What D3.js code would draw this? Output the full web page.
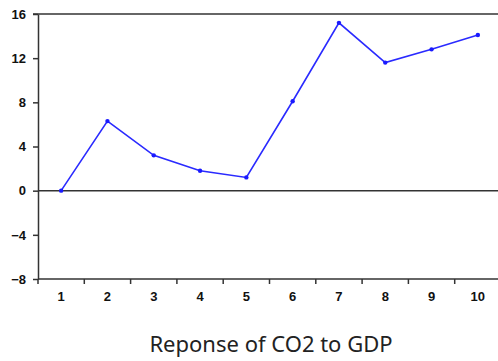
<!DOCTYPE html>
<html>
<head>
<meta charset="utf-8">
<script src="https://cdn.jsdelivr.net/npm/d3@7"></script>
<style>
  body { margin: 0; background: #fff; }
  .tick text { font-family: "Liberation Sans", Arial, sans-serif; font-weight: bold; font-size: 13px; fill: #111; }
</style>
</head>
<body>
<div id="chart"></div>
<script>
// impulse response of CO2 to GDP, periods 1..10
var periods = [1, 2, 3, 4, 5, 6, 7, 8, 9, 10];
var response = [0, 6.3, 3.2, 1.8, 1.2, 8.1, 15.2, 11.6, 12.8, 14.1];
var yTicks = [-8, -4, 0, 4, 8, 12, 16];
var title = "Reponse of CO2 to GDP";

var width = 498, height = 361;
var margin = { top: 14, right: -3, bottom: 82, left: 38 };

var svg = d3.select("#chart").append("svg")
    .attr("width", width)
    .attr("height", height);

var x = d3.scaleBand()
    .domain(periods)
    .range([margin.left, width - margin.right]);

var y = d3.scaleLinear()
    .domain([-8, 16])
    .range([height - margin.bottom, margin.top]);

var axisColor = "#333";

// top frame line
svg.append("line")
    .attr("x1", margin.left - 5).attr("x2", width)
    .attr("y1", y(16)).attr("y2", y(16))
    .attr("stroke", axisColor).attr("stroke-width", 1.5);

// zero line
svg.append("line")
    .attr("x1", margin.left).attr("x2", width)
    .attr("y1", y(0)).attr("y2", y(0))
    .attr("stroke", axisColor).attr("stroke-width", 1.5);

// y axis
var yAxis = svg.append("g")
    .attr("transform", "translate(" + margin.left + ",0)")
    .call(d3.axisLeft(y).tickValues(yTicks).tickSize(5).tickSizeOuter(0).tickPadding(7));
yAxis.select(".domain").attr("stroke", axisColor).attr("stroke-width", 1.5);
yAxis.selectAll(".tick line").attr("stroke", axisColor).attr("stroke-width", 1.5);

// x axis: labels in band centres, ticks on band edges
var xAxis = svg.append("g")
    .attr("transform", "translate(0," + y(-8) + ")")
    .call(d3.axisBottom(x).tickSize(0).tickSizeOuter(0).tickPadding(13));
xAxis.select(".domain").remove();

svg.append("line")
    .attr("x1", margin.left).attr("x2", width)
    .attr("y1", y(-8)).attr("y2", y(-8))
    .attr("stroke", axisColor).attr("stroke-width", 1.5);

svg.selectAll(".xtick")
    .data(periods)
    .enter()
    .append("line")
    .attr("class", "xtick")
    .attr("x1", function(d) { return x(d); })
    .attr("x2", function(d) { return x(d); })
    .attr("y1", y(-8))
    .attr("y2", y(-8) + 5)
    .attr("stroke", axisColor).attr("stroke-width", 1.5);

// response line
var line = d3.line()
    .x(function(d, i) { return x(periods[i]) + x.bandwidth() / 2; })
    .y(function(d) { return y(d); });

svg.append("path")
    .datum(response)
    .attr("d", line)
    .attr("fill", "none")
    .attr("stroke", "#2a2aff")
    .attr("stroke-width", 1.6);

svg.selectAll(".pt")
    .data(response)
    .enter()
    .append("circle")
    .attr("class", "pt")
    .attr("cx", function(d, i) { return x(periods[i]) + x.bandwidth() / 2; })
    .attr("cy", function(d) { return y(d); })
    .attr("r", 2.2)
    .attr("fill", "#1a1aff");

svg.append("text")
    .attr("x", 271)
    .attr("y", 352)
    .attr("text-anchor", "middle")
    .style("font-family", "'Noto Sans', sans-serif")
    .style("font-size", "22px")
    .style("fill", "#222")
    .text(title);
</script>
</body>
</html>
